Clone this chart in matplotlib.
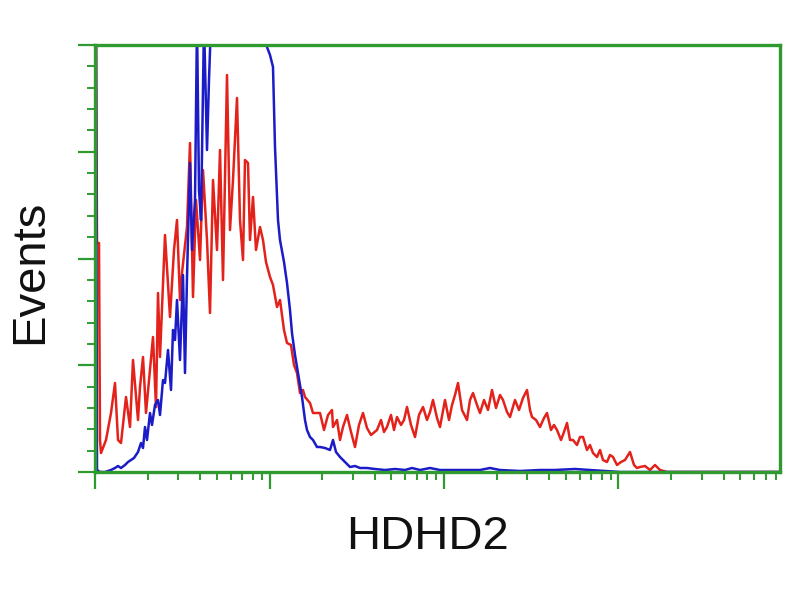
import numpy as np
import matplotlib
matplotlib.use("Agg")
import matplotlib.pyplot as plt

# x: fluorescence channel (174.5 channels per decade), y: events (arbitrary units)
red_channel = [0, 1, 2, 4, 5, 6, 11, 16, 20, 23, 26, 31, 35, 38, 43, 45, 48, 51, 54, 58,
               61, 63, 65, 70, 75, 79, 82, 85, 87, 92, 95, 98, 101, 105, 108, 112, 115, 118, 122, 125,
               128, 132, 135, 138, 142, 145, 148, 150, 153, 155, 158, 161, 165, 168, 171, 175, 178, 182, 185, 189,
               192, 196, 199, 202, 205, 208, 210, 215, 218, 222, 225, 229, 233, 237, 238, 242, 245, 248, 252, 256,
               260, 264, 268, 272, 276, 282, 286, 289, 292, 296, 299, 302, 306, 309, 312, 316, 320, 324, 328, 332,
               335, 338, 342, 345, 350, 354, 357, 360, 363, 367, 372, 375, 378, 382, 385, 389, 393, 397, 401, 405,
               408, 412, 415, 420, 424, 428, 432, 435, 437, 441, 445, 449, 452, 456, 459, 462, 466, 469, 472, 475,
               478, 482, 485, 488, 492, 495, 498, 502, 505, 508, 512, 515, 518, 522, 526, 530, 535, 539, 542, 545,
               550, 555, 560, 565, 572, 585, 685]
red_count = [450, 450, 229, 229, 32, 19, 32, 59, 89, 32, 29, 75, 45, 112, 52, 85, 115, 59, 92, 135,
             65, 179, 115, 237, 155, 222, 252, 172, 199, 245, 329, 175, 272, 212, 302, 232, 159, 292, 222, 322,
             192, 397, 242, 292, 374, 252, 212, 312, 309, 232, 275, 222, 245, 232, 210, 195, 187, 165, 172, 142,
             129, 127, 107, 99, 79, 82, 75, 69, 59, 59, 59, 42, 57, 62, 45, 52, 32, 45, 57, 40,
             25, 47, 59, 44, 37, 42, 52, 40, 45, 57, 42, 55, 47, 52, 65, 47, 35, 57, 65, 52,
             60, 72, 54, 45, 72, 52, 67, 77, 89, 62, 52, 72, 79, 67, 59, 72, 62, 82, 64, 77,
             72, 60, 55, 72, 62, 74, 82, 62, 55, 52, 45, 54, 59, 42, 47, 42, 32, 40, 49, 32,
             32, 27, 35, 35, 22, 27, 19, 15, 22, 12, 10, 17, 15, 7, 10, 12, 20, 7, 4, 5,
             6, 2, 7, 2, 0, 0, 0]

blue_channel = [0, 1, 2, 5, 10, 16, 20, 23, 26, 30, 33, 36, 39, 43, 46, 48, 50, 52, 55, 57,
                60, 63, 65, 68, 70, 73, 76, 78, 80, 82, 85, 88, 90, 92, 95, 97, 100, 102, 104, 106,
                109, 112, 114, 116, 170, 172, 175, 178, 180, 183, 185, 189, 192, 195, 197, 200, 202, 205, 207, 210,
                212, 215, 218, 222, 225, 230, 235, 238, 241, 245, 250, 255, 260, 265, 272, 280, 290, 300, 310, 317,
                325, 335, 345, 365, 385, 395, 405, 425, 445, 460, 480, 495, 510, 525, 685]
blue_count = [450, 450, 2, 0, 0, 2, 4, 6, 4, 7, 10, 12, 14, 20, 29, 24, 45, 32, 59, 47,
              67, 72, 57, 92, 89, 122, 82, 142, 132, 172, 112, 197, 99, 195, 309, 222, 272, 450, 282, 252,
              450, 322, 392, 450, 450, 425, 417, 405, 325, 252, 232, 210, 189, 162, 139, 117, 105, 87, 75, 52,
              42, 35, 32, 25, 25, 24, 22, 32, 20, 15, 10, 5, 6, 4, 4, 3, 2, 3, 2, 4,
              2, 4, 2, 2, 2, 4, 2, 1, 2, 2, 3, 2, 1, 0, 0]

DECADE = 174.5
green = "#2f9a2f"

fig = plt.figure(figsize=(8, 6), dpi=100)
ax = fig.add_axes([95 / 800, 1 - 472 / 600, 685 / 800, 427 / 600])

ax.plot(red_channel, red_count, color="#e3221b", lw=1.8, zorder=2)
ax.plot(blue_channel, blue_count, color="#1b1bc8", lw=1.8, zorder=3)

ax.set_xlim(0, 685)
ax.set_ylim(0, 427)

xmaj = [d * DECADE for d in range(4)]
xmin = [d * DECADE + DECADE * np.log10(m) for d in range(4) for m in range(2, 10)
        if d * DECADE + DECADE * np.log10(m) < 685]
ax.set_xticks(xmaj)
ax.set_xticks(xmin, minor=True)
ymaj = [427 / 4 * i for i in range(5)]
ymin = [427 / 20 * i for i in range(21)]
ax.set_yticks(ymaj)
ax.set_yticks(ymin, minor=True)
ax.tick_params(which="major", length=12, width=1.6, color=green,
               labelbottom=False, labelleft=False, direction="out")
ax.tick_params(which="minor", length=6, width=1.4, color=green, direction="out")

for s in ax.spines.values():
    s.set_color(green)
    s.set_linewidth(2.4)
    s.set_zorder(5)

fig.text(428 / 800, 1 - 537 / 600, "HDHD2", family="Liberation Sans", fontsize=34,
         ha="center", va="center", color="#111111")
fig.text(30 / 800, 1 - 272 / 600, "Events", family="Liberation Sans", fontsize=34,
         ha="center", va="center", rotation=90, color="#111111")

fig.savefig("out.png", dpi=100)
